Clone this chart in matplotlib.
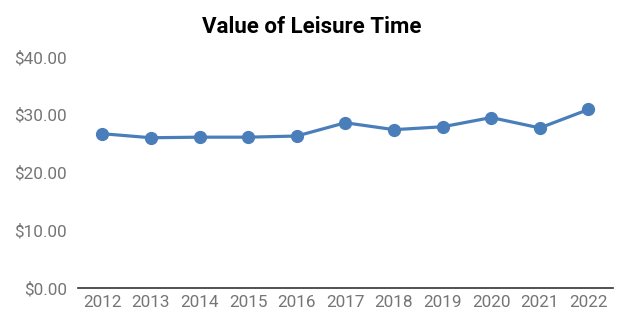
import matplotlib
matplotlib.use("Agg")
import matplotlib.pyplot as plt
from matplotlib.ticker import FuncFormatter

years = ["2012", "2013", "2014", "2015", "2016", "2017", "2018", "2019", "2020", "2021", "2022"]
values = [26.7, 26.0, 26.1, 26.1, 26.3, 28.6, 27.4, 27.9, 29.5, 27.7, 30.9]
yticks = [0, 10, 20, 30, 40]
title = "Value of Leisure Time"

plt.rcParams['font.family'] = ['Roboto', 'DejaVu Sans']

fig = plt.figure(figsize=(6.24, 3.29), dpi=100)
ax = fig.add_axes([0.125, 0.125, 0.857, 0.702])
x = list(range(len(years)))
ax.plot(x, values, color="#4a7ebb", linewidth=2.3, marker="o", markersize=8.5)
ax.set_xlim(-0.5, len(years) - 0.5)
ax.set_ylim(0, 40)
ax.set_yticks(yticks)
ax.yaxis.set_major_formatter(FuncFormatter(lambda v, p: f"${v:.2f}"))
ax.set_xticks(x)
ax.set_xticklabels(years)
for s in ["top", "right", "left"]:
    ax.spines[s].set_visible(False)
ax.spines["bottom"].set_color("#333333")
ax.spines["bottom"].set_linewidth(1.2)
ax.tick_params(axis="both", length=0, labelsize=12.3, labelcolor="#757575")
ax.tick_params(axis="y", pad=8)
ax.tick_params(axis="x", pad=5)
fig.text(0.5, 0.918, title, ha="center", va="center", fontsize=16, fontweight="bold", color="black")
fig.savefig("out.png", dpi=100)
